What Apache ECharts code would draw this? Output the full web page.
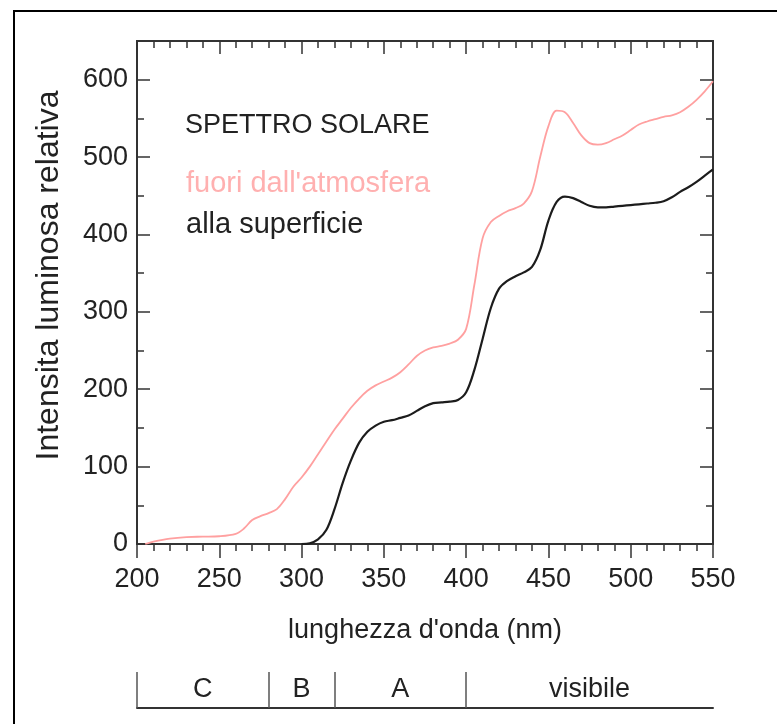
<!DOCTYPE html>
<html>
<head>
<meta charset="utf-8">
<script src="https://cdn.jsdelivr.net/npm/echarts@6/dist/echarts.min.js"></script>
<style>
  html, body { margin: 0; padding: 0; background: #fff; }
  #chart { width: 777px; height: 724px; }
</style>
</head>
<body>
<div id="chart"></div>
<script>
// spettro fuori dall'atmosfera (rosa)
const nmOut = [205, 210, 220, 230, 240, 250,
  260, 265, 270, 275, 280, 285, 290, 295, 300, 305,
  310, 315, 320, 325, 330, 335, 340, 345, 350, 355,
  360, 365, 370, 375, 380, 385, 390, 395, 400, 405,
  410, 415, 420, 425, 430, 435, 440, 445, 450, 455,
  460, 465, 470, 475, 480, 485, 490, 495, 500, 505,
  510, 515, 520, 525, 530, 535, 540, 545, 550]
const outside = [0, 3, 7, 9, 9.5, 10,
  13, 20, 31, 36, 40, 45, 58, 74, 86, 100,
  116, 132, 148, 162, 176, 188, 198, 205, 210, 215,
  222, 232, 243, 250, 254, 256, 259, 264, 278, 335,
  395, 416, 424, 430, 434, 440, 456, 500, 540, 560,
  558, 544, 528, 518, 516, 518, 523, 528, 535, 542,
  546, 549, 552, 554, 558, 565, 574, 585, 598]

// spettro alla superficie (nero)
const nmSurf = [300, 305, 310, 315, 320, 325, 330, 335, 340, 345,
  350, 355, 360, 365, 370, 375, 380, 385, 390, 395,
  400, 405, 410, 415, 420, 425, 430, 435, 440, 445,
  450, 455, 460, 465, 470, 475, 480, 485, 490, 495,
  500, 505, 510, 515, 520, 525, 530, 535, 540, 545, 550]
const surface = [0, 1, 6, 18, 45, 79, 108, 131, 145, 153,
  158, 160, 163, 166, 172, 178, 182, 183, 184, 186,
  196, 225, 265, 305, 330, 340, 346, 351, 358, 380,
  418, 442, 449, 447, 442, 437, 435, 435, 436, 437,
  438, 439, 440, 441, 443, 448, 455, 461, 468, 476, 484]

// bande UV
const bandEdges = [200, 280, 320, 400, 550]
const bandLabels = ['C', 'B', 'A', 'visibile']

const FONT = "'Liberation Sans', Arial, sans-serif"
const INK = '#222'
const AXIS = '#333'
const PINK = '#ffa0a0'

const chart = echarts.init(document.getElementById('chart'))

function xAx(pos, grid, extra) {
  return Object.assign({
    type: 'value',
    gridIndex: grid,
    position: pos,
    min: 200,
    max: 550,
    interval: 50,
    splitLine: { show: false },
    axisLine: { show: true, onZero: false, lineStyle: { color: AXIS, width: 2 } },
    axisLabel: { show: false },
    axisTick: { show: false },
  }, extra)
}

function yAx(pos, interval, tickLen, withLabels, extra) {
  return Object.assign({
    type: 'value',
    position: pos,
    min: 0,
    max: 650,
    interval: interval,
    splitLine: { show: false },
    axisLine: { show: true, onZero: false, lineStyle: { color: AXIS, width: 2 } },
    axisTick: { show: true, inside: true, length: tickLen, lineStyle: { color: AXIS, width: 1.5 } },
    axisLabel: withLabels ? {
      show: true,
      margin: 9,
      fontSize: 27,
      fontFamily: FONT,
      color: INK,
      formatter: (v) => (v <= 600 ? String(v) : ''),
    } : { show: false },
  }, extra)
}

chart.setOption({
  animation: false,
  backgroundColor: '#fff',
  title: {
    text: 'SPETTRO SOLARE',
    left: 180,
    top: 107,
    textStyle: { fontFamily: FONT, fontSize: 27, fontWeight: 'normal', color: INK },
  },
  legend: {
    orient: 'vertical',
    left: 181,
    top: 164,
    icon: 'none',
    itemWidth: 0,
    itemGap: 12,
    textStyle: { fontFamily: FONT, fontSize: 29, padding: [0, 0, 0, -5] },
    data: [
      { name: "fuori dall'atmosfera", textStyle: { color: '#ffb0b0' } },
      { name: 'alla superficie', textStyle: { color: INK } },
    ],
  },
  grid: [
    { left: 137, right: 64, top: 41, height: 503 },
    { left: 137, right: 64, top: 672, height: 36 },
  ],
  xAxis: [
    xAx('bottom', 0, {
      name: "lunghezza d'onda (nm)",
      nameLocation: 'middle',
      nameGap: 73,
      nameTextStyle: { fontFamily: FONT, fontSize: 27, color: INK },
      axisTick: { show: true, length: 14, lineStyle: { color: AXIS, width: 1.5 } },
      minorTick: { show: true, splitNumber: 5, length: 7, lineStyle: { color: AXIS, width: 1.5 } },
      axisLabel: { show: true, margin: 22, fontSize: 27, fontFamily: FONT, color: INK },
    }),
    xAx('top', 0, {
      axisTick: { show: true, inside: true, length: 13, lineStyle: { color: AXIS, width: 1.5 } },
      minorTick: { show: true, splitNumber: 5, length: 7, lineStyle: { color: AXIS, width: 1.5 } },
    }),
    xAx('bottom', 1, {}),
  ],
  yAxis: [
    yAx('left', 100, 13, true, {
      name: 'Intensita luminosa relativa',
      nameLocation: 'middle',
      nameGap: 72,
      nameTextStyle: { fontFamily: FONT, fontSize: 32, color: INK, padding: [0, 0, 0, 34] },
    }),
    yAx('left', 50, 7, false, {}),
    yAx('right', 100, 13, false, {}),
    yAx('right', 50, 7, false, {}),
    { type: 'value', gridIndex: 1, min: 0, max: 1, show: false },
  ],
  series: [
    {
      name: "fuori dall'atmosfera",
      type: 'line',
      xAxisIndex: 0,
      yAxisIndex: 0,
      smooth: 0.35,
      symbol: 'none',
      lineStyle: { color: PINK, width: 1.8 },
      itemStyle: { color: PINK },
      data: nmOut.map((x, i) => [x, outside[i]]),
    },
    {
      name: 'alla superficie',
      type: 'line',
      xAxisIndex: 0,
      yAxisIndex: 0,
      smooth: 0.35,
      symbol: 'none',
      lineStyle: { color: '#1c1c1c', width: 2.2 },
      itemStyle: { color: '#1c1c1c' },
      data: nmSurf.map((x, i) => [x, surface[i]]),
    },
    {
      name: 'bande',
      type: 'line',
      xAxisIndex: 2,
      yAxisIndex: 4,
      symbol: 'none',
      silent: true,
      lineStyle: { opacity: 0 },
      data: bandEdges.map((x) => [x, 0]),
      markLine: {
        silent: true,
        symbol: 'none',
        label: { show: false },
        lineStyle: { color: '#555', width: 1.5, type: 'solid' },
        data: bandEdges.slice(0, -1).map((x) => ({ xAxis: x })),
      },
      markArea: {
        silent: true,
        itemStyle: { color: 'rgba(0,0,0,0)' },
        label: {
          show: true,
          position: 'inside',
          fontFamily: FONT,
          fontSize: 27,
          color: INK,
        },
        data: bandLabels.map((name, i) => [
          { name: name, xAxis: bandEdges[i] },
          { xAxis: bandEdges[i + 1] },
        ]),
      },
    },
  ],
  graphic: [
    {
      type: 'polyline',
      shape: { points: [[14, 724], [14, 11], [777, 11]] },
      style: { stroke: '#000', lineWidth: 2, fill: null },
      silent: true,
    },
  ],
})
</script>
</body>
</html>
